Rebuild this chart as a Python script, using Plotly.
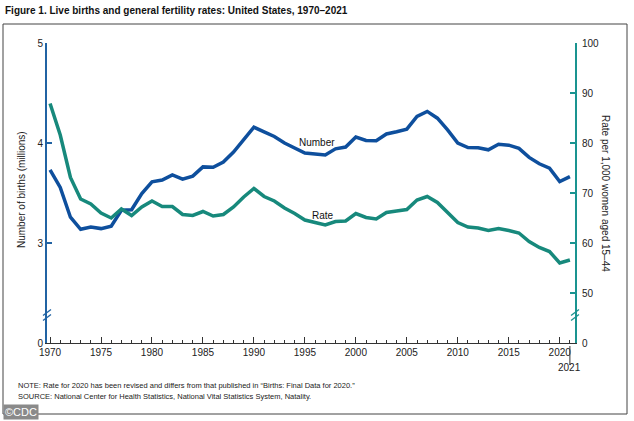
import plotly.graph_objects as go

years = list(range(1970, 2022))
births_millions = [3.731, 3.556, 3.258, 3.137, 3.160, 3.144, 3.168, 3.327, 3.333, 3.494,
                   3.612, 3.629, 3.681, 3.639, 3.669, 3.761, 3.757, 3.809, 3.910, 4.041,
                   4.158, 4.111, 4.065, 4.000, 3.953, 3.900, 3.891, 3.881, 3.942, 3.959,
                   4.059, 4.026, 4.022, 4.090, 4.112, 4.138, 4.266, 4.316, 4.248, 4.131,
                   3.999, 3.954, 3.953, 3.932, 3.988, 3.978, 3.946, 3.856, 3.792, 3.748,
                   3.614, 3.664]
fertility_rate = [87.9, 81.6, 73.1, 68.8, 67.8, 66.0, 65.0, 66.8, 65.5, 67.2,
                  68.4, 67.3, 67.3, 65.7, 65.5, 66.3, 65.4, 65.7, 67.2, 69.2,
                  70.9, 69.3, 68.4, 67.0, 65.9, 64.6, 64.1, 63.6, 64.3, 64.4,
                  65.9, 65.1, 64.8, 66.1, 66.4, 66.7, 68.6, 69.3, 68.1, 66.2,
                  64.1, 63.2, 63.0, 62.5, 62.9, 62.5, 62.0, 60.3, 59.1, 58.3,
                  56.0, 56.6]

left_tickvals = [2, 3, 4, 5]
left_ticktext = ["0", "3", "4", "5"]
right_tickvals = [40, 50, 60, 70, 80, 90, 100]
right_ticktext = ["0", "50", "60", "70", "80", "90", "100"]
x_tickvals = list(range(1970, 2021, 5))

BLUE = "#0e4f9d"
TEAL = "#17897c"
AX_BLUE = "#2163a3"
AX_TEAL = "#1a9490"
FONT = "Liberation Sans, Arial, sans-serif"

# plot area in pixels
L, R, T, B = 47, 575, 43, 343
W, H = 634, 421


def px(x):
    return (x - L) / (R - L)


def py(y):
    return (B - y) / (B - T)


fig = go.Figure()
fig.add_trace(go.Scatter(x=years, y=births_millions, mode="lines",
                         line=dict(color=BLUE, width=3.5), yaxis="y", hoverinfo="skip"))
fig.add_trace(go.Scatter(x=years, y=fertility_rate, mode="lines",
                         line=dict(color=TEAL, width=3.5), yaxis="y2", hoverinfo="skip"))

shapes = []
# frame
shapes.append(dict(type="rect", xref="paper", yref="paper", x0=px(3), x1=px(627),
                   y0=py(414), y1=py(24), line=dict(color="#444", width=1), layer="below"))
# 2021 extended tick
shapes.append(dict(type="line", xref="x", yref="paper", x0=2021, x1=2021,
                   y0=py(346), y1=py(365), line=dict(color="#333", width=1)))
# axis breaks
for ax_x, col in ((L, AX_BLUE), (R, AX_TEAL)):
    for d in (-2.5, 2.5):
        shapes.append(dict(type="line", xref="paper", yref="paper",
                           x0=px(ax_x - 4), y0=py(318 + d), x1=px(ax_x + 4), y1=py(312 + d),
                           line=dict(color=col, width=1.3)))

annotations = [
    dict(text="<b>Figure 1. Live births and general fertility rates: United States, 1970–2021</b>",
         xref="paper", yref="paper", x=px(3), y=py(11), xanchor="left", yanchor="middle",
         showarrow=False, font=dict(family=FONT, size=10, color="#111")),
    dict(text="Number of births (millions)", xref="paper", yref="paper", x=px(21), y=py(190),
         textangle=-90, showarrow=False, xanchor="center", yanchor="middle",
         font=dict(family=FONT, size=10, color="#222")),
    dict(text="Rate per 1,000 women aged 15–44", xref="paper", yref="paper", x=px(606), y=py(193),
         textangle=90, showarrow=False, xanchor="center", yanchor="middle",
         font=dict(family=FONT, size=10, color="#222")),
    dict(text="Number", xref="x", yref="y", x=1996.2, y=4.01, showarrow=False,
         font=dict(family=FONT, size=10, color="#111")),
    dict(text="Rate", xref="x", yref="y2", x=1996.8, y=65.6, showarrow=False,
         font=dict(family=FONT, size=10, color="#111")),
    dict(text="2021", xref="x", yref="paper", x=2021, y=py(375), showarrow=False,
         font=dict(family=FONT, size=10, color="#222")),
    dict(text="NOTE: Rate for 2020 has been revised and differs from that published in \u201cBirths: Final Data for 2020.\u201d",
         xref="paper", yref="paper", x=px(16), y=py(385), xanchor="left", yanchor="middle",
         showarrow=False, font=dict(family=FONT, size=7.5, color="#222")),
    dict(text="SOURCE: National Center for Health Statistics, National Vital Statistics System, Natality.",
         xref="paper", yref="paper", x=px(16), y=py(396), xanchor="left", yanchor="middle",
         showarrow=False, font=dict(family=FONT, size=7.5, color="#222")),
    dict(text="©CDC", xref="paper", yref="paper", x=px(3), y=py(420), xanchor="left", yanchor="bottom",
         showarrow=False, bgcolor="#8a8a8a", borderpad=1,
         font=dict(family=FONT, size=11, color="white")),
]

fig.update_layout(
    width=W, height=H,
    margin=dict(l=L, r=W - R, t=T, b=H - B, pad=0, autoexpand=False),
    paper_bgcolor="white", plot_bgcolor="white",
    showlegend=False,
    font=dict(family=FONT, size=10, color="#222"),
    xaxis=dict(range=[1969.7, 2021.5], tickvals=x_tickvals, ticks="inside", ticklen=6,
               tickcolor="#333", showline=True, linecolor="#333", linewidth=1, automargin=False,
               showgrid=False, zeroline=False, tickfont=dict(size=10, color="#222"),
               minor=dict(dtick=1, tick0=1970, ticks="inside", ticklen=3, tickcolor="#333", showgrid=False)),
    yaxis=dict(range=[2, 5], tickvals=left_tickvals, ticktext=left_ticktext, ticks="inside",
               ticklen=5, tickcolor=AX_BLUE, tickwidth=1.5, showline=True, linecolor=AX_BLUE,
               linewidth=2, showgrid=False, zeroline=False, automargin=False,
               tickfont=dict(size=10, color="#222")),
    yaxis2=dict(range=[40, 100], tickvals=right_tickvals, ticktext=right_ticktext, ticks="inside",
                ticklen=5, tickcolor=AX_TEAL, tickwidth=1.5, showline=True, linecolor=AX_TEAL,
                linewidth=2, showgrid=False, zeroline=False, overlaying="y", side="right",
                automargin=False, ticklabelstandoff=3, tickfont=dict(size=10, color="#222")),
    shapes=shapes,
    annotations=annotations,
)

fig.write_html("out.html", config={"displayModeBar": False},
               post_script="document.body.style.margin='0';document.body.style.overflow='hidden';")
